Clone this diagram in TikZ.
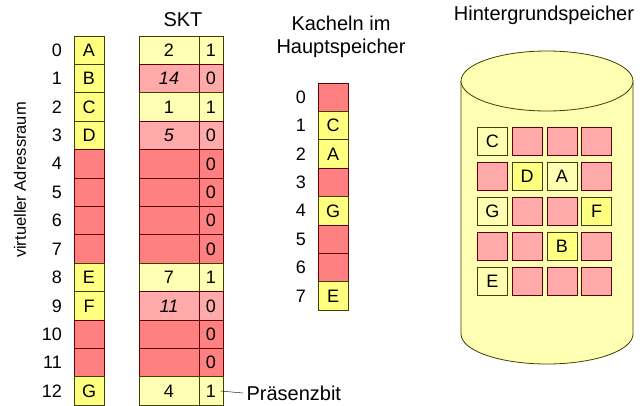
\documentclass[tikz,border=0pt]{standalone}
\usepackage{fontspec}
\setmainfont{Liberation Sans}
\usetikzlibrary{positioning}

\definecolor{pagein}{HTML}{FFFF80}
\definecolor{pagelight}{HTML}{FFFFB3}
\definecolor{pageout}{HTML}{FFAAAA}
\definecolor{pagenone}{HTML}{FF8080}
\definecolor{olivedark}{HTML}{404000}
\definecolor{reddark}{HTML}{600000}

\begin{document}
\begin{tikzpicture}[x=1pt,y=-1pt,
  cell/.style={minimum width=30pt,minimum height=28.4pt,inner sep=0pt,line width=0.8pt,font=\fontsize{18}{20}\selectfont},
  inmem/.style={cell,fill=pagein,draw=olivedark},
  light/.style={cell,fill=pagelight,draw=olivedark},
  swapped/.style={cell,fill=pageout,draw=reddark},
  nopage/.style={cell,fill=pagenone,draw=reddark},
  nr/.style={anchor=east,inner sep=0pt,font=\fontsize{18}{20}\selectfont},
  title/.style={font=\fontsize{20}{23}\selectfont}]
\useasboundingbox (0,0) rectangle (644,405);
% titles
\node[title] (skt) at (183,20) {SKT};
\node[title,align=center] (kacheln) at (341,37) {Kacheln im\\Hauptspeicher};
\node[title] (hgs) at (544,15) {Hintergrundspeicher};
\node[rotate=90,font=\fontsize{16.5}{18}\selectfont] (vlabel) at (20,180) {virtueller Adressraum};
% virtual address space + SKT
\foreach \s/\l/\t/\n/\b [count=\i from 0] in {inmem/A/light/2/1, inmem/B/swapped/\textit{14}/0,
    inmem/C/light/1/1, inmem/D/swapped/\textit{5}/0, nopage/{}/nopage/{}/0, nopage/{}/nopage/{}/0,
    nopage/{}/nopage/{}/0, nopage/{}/nopage/{}/0, inmem/E/light/7/1, inmem/F/swapped/\textit{11}/0,
    nopage/{}/nopage/{}/0, nopage/{}/nopage/{}/0, inmem/G/light/4/1} {
  \node[nr] (n\i) at (62,50.2+28.4*\i) {\i};
  \node[\s] (v\i) at (89,50.2+28.4*\i) {\l};
  \node[\t,minimum width=60pt] (s\i) at (169,50.2+28.4*\i) {\n};
  \node[\t,minimum width=24pt] (b\i) at (211,50.2+28.4*\i) {\b};
}
\node[title,anchor=west] (pbit) at (243,393) {Präsenzbit};
\draw[thin] ([xshift=-3pt]b12.east) -- (pbit.west);
% tiles in main memory
\foreach \s/\l [count=\i from 0] in {nopage/{},inmem/C,inmem/A,nopage/{},inmem/G,nopage/{},nopage/{},inmem/E} {
  \node[nr] (k\i) at (306,97.2+28.4*\i) {\i};
  \node[\s] (m\i) at (333,97.2+28.4*\i) {\l};
}
% background storage
\draw[fill=pagelight,draw=olivedark,line width=0.8pt] (461,81) -- (461,334)
  arc[start angle=180,end angle=0,x radius=86,y radius=30] -- (633,81);
\draw[fill=pagelight,draw=olivedark,line width=0.8pt] (547,81) ellipse[x radius=86,y radius=30];
\foreach \row [count=\r from 0] in {{light/C,swapped/{},swapped/{},swapped/{}},
    {swapped/{},inmem/D,light/A,swapped/{}}, {light/G,swapped/{},swapped/{},inmem/F},
    {swapped/{},swapped/{},inmem/B,swapped/{}}, {light/E,swapped/{},swapped/{},swapped/{}}} {
  \foreach \s/\l [count=\j from 0] in \row
    \node[\s,minimum height=28pt] (h\r\j) at (492.3+34.8*\j,141.7+34.8*\r) {\l};
}
\end{tikzpicture}
\end{document}
